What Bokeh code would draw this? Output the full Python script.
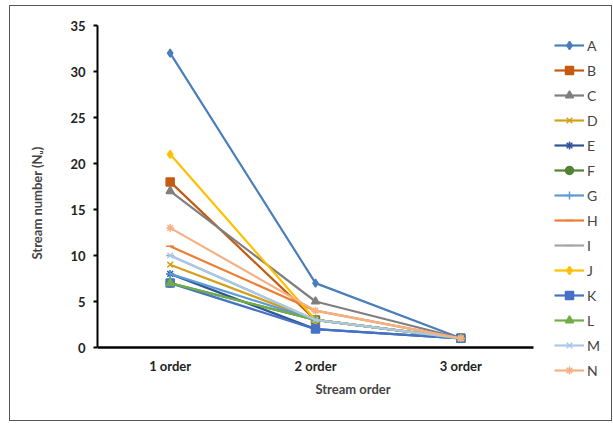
from bokeh.plotting import figure
from bokeh.models import (Range1d, SingleIntervalTicker, FixedTicker, Legend, LegendItem,
                          LinearAxis)
from bokeh.embed import file_html
from bokeh.resources import INLINE

orders = ["1 order", "2 order", "3 order"]
names = ["A", "B", "C", "D", "E", "F", "G", "H", "I", "J", "K", "L", "M", "N"]
A = [32, 7, 1]
B = [18, 3, 1]
C = [17, 5, 1]
D = [9, 3, 1]
E = [8, 2, 1]
F = [7, 3, 1]
G = [8, 3, 1]
H = [11, 4, 1]
I = [10, 3, 1]
J = [21, 3, 1]
K = [7, 2, 1]
L = [7, 3, 1]
M = [10, 3, 1]
N = [13, 4, 1]
series = [A, B, C, D, E, F, G, H, I, J, K, L, M, N]
y_top = 35

colors = ["#4A7EBB", "#C55A11", "#7F7F7F", "#D4A017", "#2F5597", "#548235", "#5B9BD5",
          "#ED7D31", "#A5A5A5", "#FFC000", "#4472C4", "#70AD47", "#A9C8EA", "#F4B183"]
markers = ["diamond", "square", "triangle", "x", "asterisk", "circle", "cross",
           "dash", "dash", "diamond", "square", "triangle", "x", "asterisk"]

# category positions on the x axis (one slot per order)
xpos = list(range(1, len(orders) + 1))

# layout (pixels)
W, H_ = 603, 416
b_left, b_right, b_top, b_bottom = 87, 5, 19, 42
axis_w, axis_h = 436.0, 322.0          # pixel length of the drawn axes
frame_w = W - b_left - b_right
frame_h = H_ - b_top - b_bottom
x_end = 0.5 + len(orders) * frame_w / axis_w
y_start = y_top - y_top * frame_h / axis_h

p = figure(width=W, height=H_, x_range=Range1d(0.5, x_end),
           y_range=Range1d(y_start, y_top), output_backend="svg", toolbar_location=None,
           x_axis_location=None,
           min_border_left=b_left, min_border_right=b_right,
           min_border_top=b_top, min_border_bottom=b_bottom)
p.styles = {"border": "1.5px solid #555555", "box-sizing": "border-box",
            "margin-left": "9px", "margin-top": "5px"}
p.outline_line_color = None
p.xgrid.visible = False
p.ygrid.visible = False

items = []
for nm, ys, c, m in zip(names, series, colors, markers):
    lr = p.line(xpos, ys, line_color=c, line_width=2.2)
    sr = p.scatter(xpos, ys, marker=m, size=8, fill_color=c, line_color=c, line_width=1.5)
    items.append(LegendItem(label=nm, renderers=[lr, sr]))

legend = Legend(items=items, location=(457, 0), padding=0, margin=0,
                glyph_width=30, glyph_height=20, label_height=20, spacing=5,
                label_standoff=3, border_line_color=None, background_fill_alpha=0,
                label_text_font="Lato", label_text_font_size="14px")
p.add_layout(legend, "center")

p.yaxis.ticker = SingleIntervalTicker(interval=5)
p.yaxis.bounds = (0, y_top)
p.yaxis.minor_tick_line_color = None
p.yaxis.major_tick_out = 4
p.yaxis.major_tick_in = 0
p.yaxis.axis_line_width = 2
p.yaxis.major_tick_line_width = 2
p.yaxis.axis_line_color = "black"
p.yaxis.major_label_text_font = "Lato"
p.yaxis.major_label_text_font_style = "bold"
p.yaxis.major_label_text_font_size = "13px"
p.yaxis.major_label_text_color = "#222222"
p.yaxis.major_label_standoff = 8
p.yaxis.axis_label = "Stream number (Nᵤ)"
p.yaxis.axis_label_text_font = "Lato"
p.yaxis.axis_label_text_font_style = "bold"
p.yaxis.axis_label_text_font_size = "13px"
p.yaxis.axis_label_standoff = 22

# x-axis title (label only), right under the plot frame
xtitle = LinearAxis(ticker=FixedTicker(ticks=[]), bounds=(0.5, len(orders) + 0.5),
                    axis_line_color=None, major_tick_line_color=None,
                    minor_tick_line_color=None, major_tick_out=0, minor_tick_out=0,
                    major_label_standoff=0, axis_label="Stream order",
                    axis_label_text_font="Lato", axis_label_text_font_style="bold",
                    axis_label_text_font_size="13px", axis_label_standoff=0)
p.add_layout(xtitle, "below")

# category axis drawn at y = 0
xaxis = LinearAxis(ticker=FixedTicker(ticks=xpos), fixed_location=0,
                   bounds=(0.5, len(orders) + 0.5),
                   major_label_overrides={x: o for x, o in zip(xpos, orders)},
                   major_tick_line_color=None, minor_tick_line_color=None,
                   major_tick_out=0, minor_tick_out=0,
                   axis_line_width=2.5, axis_line_color="black",
                   major_label_text_font="Lato", major_label_text_font_style="bold",
                   major_label_text_font_size="13px", major_label_text_color="#222222",
                   major_label_standoff=10)
p.add_layout(xaxis, "below")

open("out.html", "w").write(file_html(p, INLINE))
